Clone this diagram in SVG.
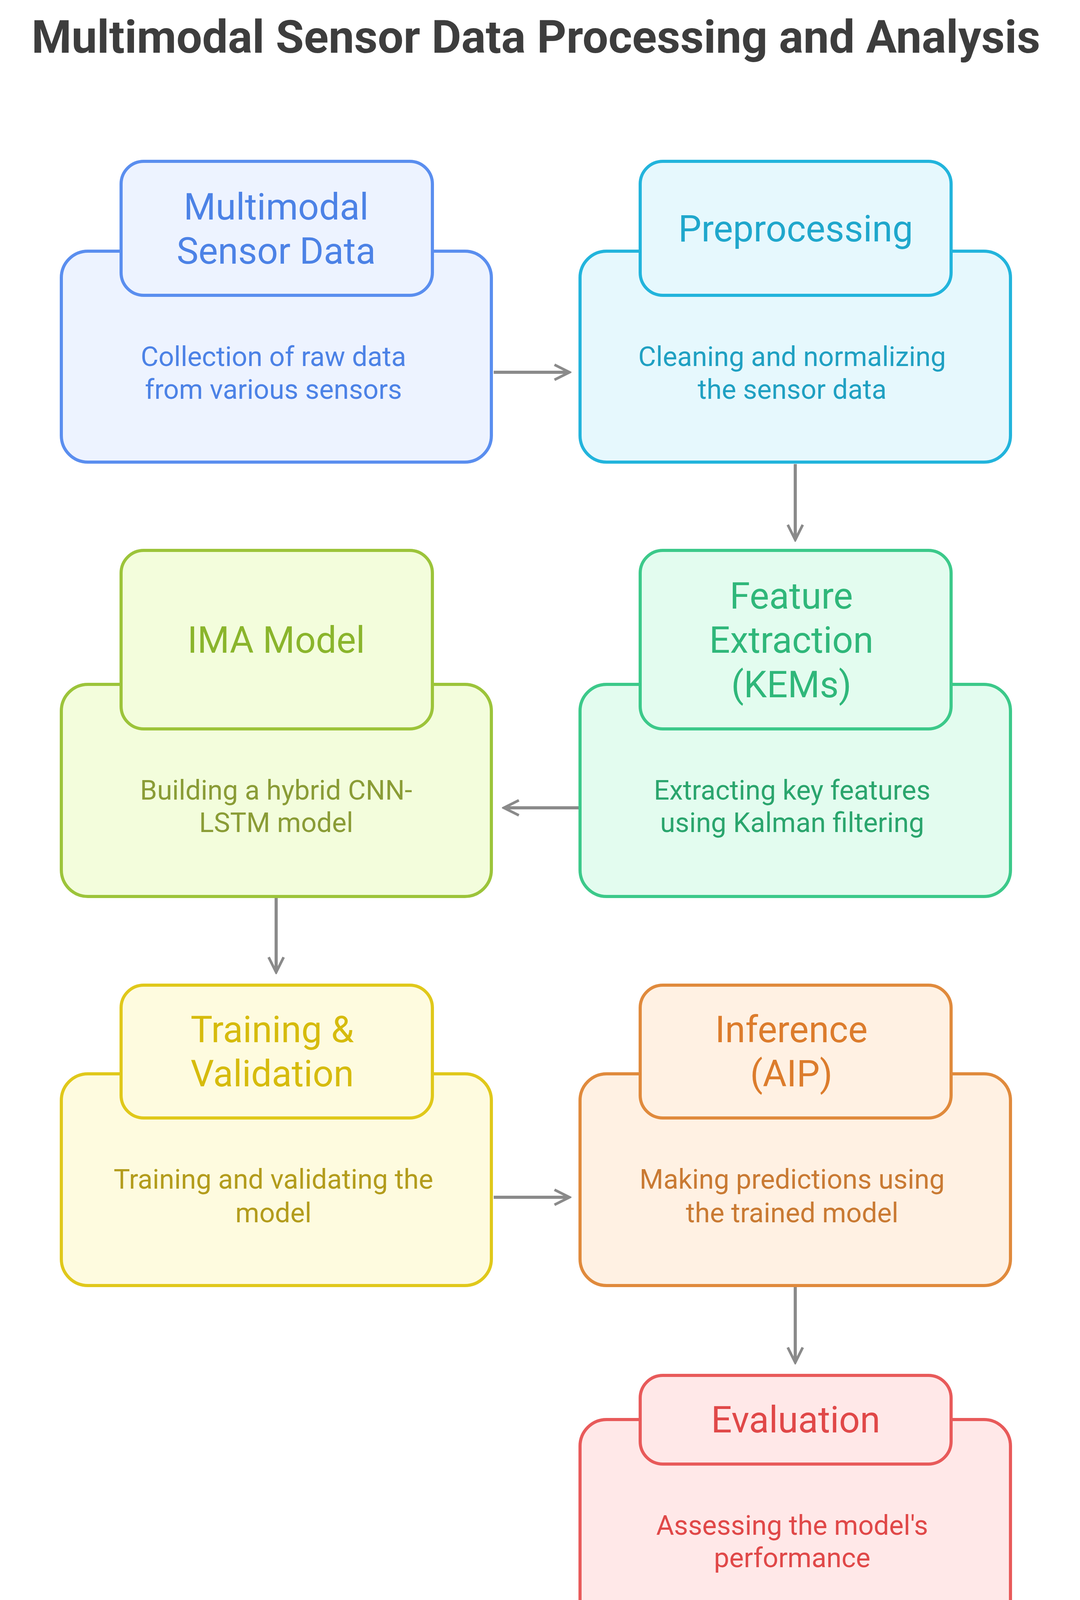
<svg xmlns="http://www.w3.org/2000/svg" width="2765" height="4296" viewBox="0 0 2765 4296">
<style>
text{font-family:Roboto,"Liberation Sans",sans-serif;text-anchor:middle}
.t{font-size:94px}
.d{font-size:70px}
rect{stroke-width:8}
.c{stroke:#8a8a8a;stroke-width:8;fill:none}
</style>
<defs><marker id="a" viewBox="0 0 10 10" refX="9" refY="5" markerWidth="6" markerHeight="6" orient="auto"><path d="M1 1L9 5L1 9" fill="none" stroke="#8a8a8a" stroke-width="1.4"/></marker></defs>
<rect width="2765" height="4296" fill="#fff"/>
<text x="1372" y="135" style="font-size:117px;font-weight:bold" fill="#3d3d3d">Multimodal Sensor Data Processing and Analysis</text>
<g id="connectors">
<path class="c" d="M1264 953H1458" marker-end="url(#a)"/>
<path class="c" d="M2036 1188V1382" marker-end="url(#a)"/>
<path class="c" d="M1485 2068H1290" marker-end="url(#a)"/>
<path class="c" d="M707 2295V2489" marker-end="url(#a)"/>
<path class="c" d="M1264 3065H1458" marker-end="url(#a)"/>
<path class="c" d="M2036 3294V3488" marker-end="url(#a)"/>
</g>
<g id="n1">
<rect x="157" y="643" width="1101" height="540" rx="68" fill="#edf3ff" stroke="#5a8eef"/>
<rect x="310" y="413" width="797" height="343" rx="58" fill="#edf3ff" stroke="#5a8eef"/>
<text class="t" x="707" y="562" fill="#4c82e6">Multimodal</text><text class="t" x="707" y="675" fill="#4c82e6">Sensor Data</text>
<text class="d" x="700" y="937" fill="#4c82e6">Collection of raw data</text><text class="d" x="700" y="1021" fill="#4c82e6">from various sensors</text>
</g>
<g id="n2">
<rect x="1485" y="643" width="1102" height="540" rx="68" fill="#e6f8fd" stroke="#22b4dc"/>
<rect x="1639" y="413" width="796" height="343" rx="58" fill="#e6f8fd" stroke="#22b4dc"/>
<text class="t" x="2037" y="618" fill="#1fa7cc">Preprocessing</text>
<text class="d" x="2028" y="937" fill="#1fa0c2">Cleaning and normalizing</text><text class="d" x="2028" y="1021" fill="#1fa0c2">the sensor data</text>
</g>
<g id="n3">
<rect x="1485" y="1752" width="1102" height="543" rx="68" fill="#e3fcef" stroke="#3cc98a"/>
<rect x="1639" y="1409" width="796" height="457" rx="58" fill="#e3fcef" stroke="#3cc98a"/>
<text class="t" x="2026" y="1558" fill="#2fb77a">Feature</text><text class="t" x="2026" y="1671" fill="#2fb77a">Extraction</text><text class="t" x="2026" y="1785" fill="#2fb77a">(KEMs)</text>
<text class="d" x="2028" y="2047" fill="#2aa56d">Extracting key features</text><text class="d" x="2028" y="2130" fill="#2aa56d">using Kalman filtering</text>
</g>
<g id="n4">
<rect x="157" y="1752" width="1101" height="543" rx="68" fill="#f3fddc" stroke="#9cc43a"/>
<rect x="310" y="1409" width="797" height="457" rx="58" fill="#f3fddc" stroke="#9cc43a"/>
<text class="t" x="707" y="1671" fill="#8ab52c">IMA Model</text>
<text class="d" x="707" y="2047" fill="#8a9c36">Building a hybrid CNN-</text><text class="d" x="707" y="2130" fill="#8a9c36">LSTM model</text>
</g>
<g id="n5">
<rect x="157" y="2749" width="1101" height="542" rx="68" fill="#fefbdf" stroke="#e0c81a"/>
<rect x="310" y="2522" width="797" height="340" rx="58" fill="#fefbdf" stroke="#e0c81a"/>
<text class="t" x="697" y="2668" fill="#d6bb0c">Training &amp;</text><text class="t" x="697" y="2781" fill="#d6bb0c">Validation</text>
<text class="d" x="700" y="3043" fill="#b39c1c">Training and validating the</text><text class="d" x="700" y="3129" fill="#b39c1c">model</text>
</g>
<g id="n6">
<rect x="1485" y="2749" width="1102" height="542" rx="68" fill="#fff1e3" stroke="#e08a3c"/>
<rect x="1639" y="2522" width="796" height="340" rx="58" fill="#fff1e3" stroke="#e08a3c"/>
<text class="t" x="2026" y="2668" fill="#dc7c2c">Inference</text><text class="t" x="2026" y="2781" fill="#dc7c2c">(AIP)</text>
<text class="d" x="2028" y="3043" fill="#c97a33">Making predictions using</text><text class="d" x="2028" y="3129" fill="#c97a33">the trained model</text>
</g>
<g id="n7">
<rect x="1485" y="3634" width="1102" height="543" rx="68" fill="#ffe8e8" stroke="#e85a5a"/>
<rect x="1639" y="3521" width="796" height="227" rx="58" fill="#ffe8e8" stroke="#e85a5a"/>
<text class="t" x="2037" y="3667" fill="#e04848">Evaluation</text>
<text class="d" x="2028" y="3929" fill="#e04848">Assessing the model's</text><text class="d" x="2028" y="4012" fill="#e04848">performance</text>
</g>
</svg>
